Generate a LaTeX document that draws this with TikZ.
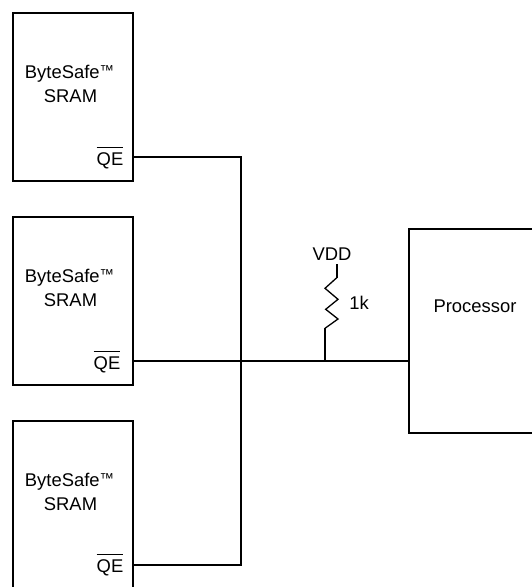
\documentclass[tikz,border=0pt]{standalone}
\usepackage{fontspec}
\setmainfont{Liberation Sans}
\newcommand{\tmark}{\raisebox{2.9pt}{\fontsize{14.4}{14}\selectfont ™}}
\newcommand{\qebar}{$\overline{\mbox{\rule{0pt}{16.8pt}QE}}$}
\begin{document}
\begin{tikzpicture}[
    x=1pt, y=-1pt,
    chip/.style={draw, line width=2pt, minimum width=120pt, minimum height=168pt},
    cpu/.style={draw, line width=2pt, minimum width=140pt, minimum height=204pt},
    label/.style={inner sep=0pt, anchor=base, font=\fontsize{18.4}{24}\selectfont},
    wire/.style={line width=2pt},
    res/.style={line width=1.3pt, line join=miter}
]
    \useasboundingbox (0,0) rectangle (531,587);

    % Blocks
    \node[chip] (sram1) at (73,97) {};
    \node[chip] (sram2) at (73,301) {};
    \node[chip] (sram3) at (73,505) {};
    \node[cpu] (proc) at (479,331) {};

    % Block labels
    \node[label] (name1) at (69.5,78) {ByteSafe\tmark};
    \node[label] (type1) at (70.5,102) {SRAM};
    \node[label] (name2) at (69.5,282) {ByteSafe\tmark};
    \node[label] (type2) at (70.5,306) {SRAM};
    \node[label] (name3) at (69.5,486) {ByteSafe\tmark};
    \node[label] (type3) at (70.5,510) {SRAM};
    \node[label] (cpuname) at (475,312.5) {Processor};
    \node[label] (qe1) at (110,165) {\qebar};
    \node[label] (qe2) at (107,369) {\qebar};
    \node[label] (qe3) at (110,572.5) {\qebar};

    % Connection points
    \coordinate (pin1) at (133,157);
    \coordinate (pin2) at (133,361);
    \coordinate (pin3) at (133,565);
    \coordinate (bustop) at (241,157);
    \coordinate (busend) at (241,565);
    \coordinate (cpuin) at (409,361);
    \coordinate (tap) at (325,361);
    \coordinate (restop) at (337,264);

    % Wires
    \draw[wire] (pin1) -- (bustop) -- (busend) -- (pin3);
    \draw[wire] (pin2) -- (cpuin);

    % Pull-up
    \node[label] (vdd) at (332,260.5) {VDD};
    \node[label] (rval) at (359,309) {1k};
    \draw[wire, line width=1.6pt] (restop) -- (337,277.5);
    \draw[res] (337,277.5) -- (325,288.3) -- (338,299.3) -- (325.7,309.3) -- (338,319) -- (325,328.3);
    \draw[wire, line width=1.6pt] (325,328) -- (tap);
\end{tikzpicture}
\end{document}
